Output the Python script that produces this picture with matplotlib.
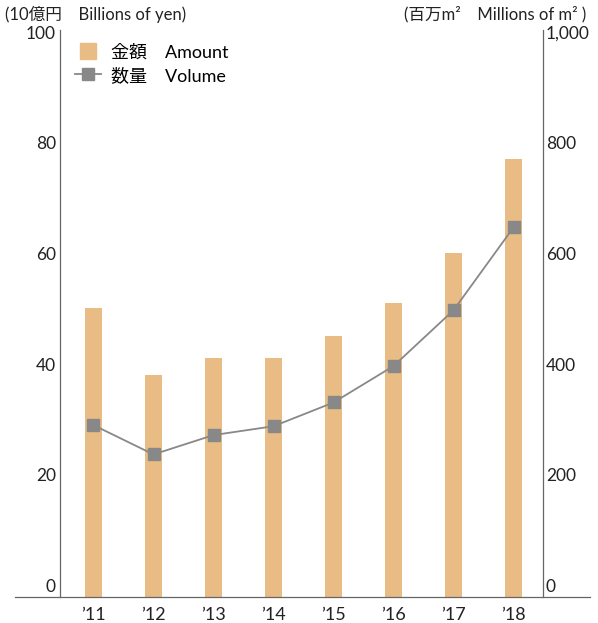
import numpy as np
import matplotlib
matplotlib.use('Agg')
import matplotlib.pyplot as plt
from matplotlib.lines import Line2D

plt.rcParams['font.family'] = ['Lato', 'Noto Sans CJK JP', 'DejaVu Sans']
plt.rcParams['font.size'] = 12

# DATA
years = ['’11', '’12', '’13', '’14', '’15', '’16', '’17', '’18']
amount = [52.3, 40.2, 43.2, 43.2, 47.2, 53.2, 62.3, 79.3]   # 10億円
volume = [311, 258, 293, 309, 352, 418, 519, 669]           # 百万m2
left_ticks = [0, 20, 40, 60, 80, 100]
right_ticks = [0, 200, 400, 600, 800, 1000]

BAR_COLOR = '#E8BC84'
LINE_COLOR = '#888888'
AXIS_COLOR = '#666666'
TEXT_COLOR = '#222222'

W, H = 598, 623
fig = plt.figure(figsize=(W / 100, H / 100), dpi=100)
ax = fig.add_axes([60 / W, 26 / H, (543 - 60) / W, (597 - 30) / H])
ax2 = ax.twinx()

x = np.arange(len(years))
ax.bar(x, amount, width=0.283, color=BAR_COLOR, zorder=1)
ax2.plot(x, volume, color=LINE_COLOR, lw=1.3, marker='s', ms=8,
         mec=LINE_COLOR, mfc=LINE_COLOR, zorder=3)

ax.set_xlim(-0.558, 7.49)
ax.set_ylim(0, 102.6)
ax2.set_ylim(0, 1026)

for a in (ax, ax2):
    for s in ('top', 'bottom'):
        a.spines[s].set_visible(False)
    a.set_yticks([])
    a.tick_params(length=0)
ax.spines['left'].set_color(AXIS_COLOR)
ax.spines['right'].set_visible(False)
ax2.spines['left'].set_visible(False)
ax2.spines['right'].set_color(AXIS_COLOR)
ax.spines['left'].set_linewidth(0.9)
ax2.spines['right'].set_linewidth(0.9)

ax.set_xticks(x)
ax.set_xticklabels(years, fontsize=13, color=TEXT_COLOR)
ax.tick_params(axis='x', pad=7)

# y labels sit just above their value
for v in left_ticks:
    ax.annotate(str(v), xy=(0, v), xycoords=('axes fraction', 'data'),
                xytext=(-3, 7.5), textcoords='offset points',
                ha='right', va='center', fontsize=12.5, color=TEXT_COLOR)
for v in right_ticks:
    ax2.annotate(f'{v:,}', xy=(1, v), xycoords=('axes fraction', 'data'),
                 xytext=(2, 7.5), textcoords='offset points',
                 ha='left', va='center', fontsize=12.5, color=TEXT_COLOR)

# baseline across the figure
fig.add_artist(Line2D([15 / W, 590 / W], [26 / H, 26 / H],
                      transform=fig.transFigure, color=AXIS_COLOR, lw=0.9))

fig.text(5 / W, 1 - 14 / H, '(10億円　Billions of yen)', ha='left', va='center',
         fontsize=12, color=TEXT_COLOR)
fig.text(586 / W, 1 - 14 / H, '(百万m²　Millions of m² )', ha='right',
         va='center', fontsize=12, color=TEXT_COLOR)

handles = [Line2D([], [], ls='none', marker='s', ms=11, color=BAR_COLOR),
           Line2D([], [], color=LINE_COLOR, lw=1.3, marker='s', ms=8)]
ax.legend(handles, ['金額　Amount', '数量　Volume'], loc='upper left',
          bbox_to_anchor=(8 / (543 - 60), 1 - 7 / 567), frameon=False,
          fontsize=13, handlelength=1.45, handleheight=0.9,
          handletextpad=0.55, labelspacing=0.35, borderaxespad=0)

fig.savefig('out.png', dpi=100)
